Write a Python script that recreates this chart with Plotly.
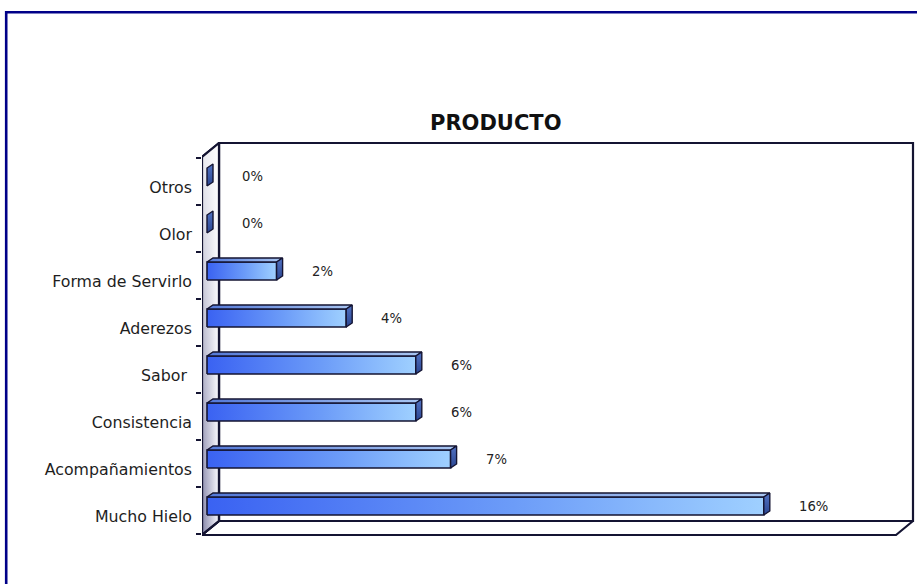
import plotly.graph_objects as go

# Categories listed bottom-to-top, with their shares (percent)
categories = ["Mucho Hielo", "Acompañamientos", "Consistencia", "Sabor ",
              "Aderezos", "Forma de Servirlo", "Olor", "Otros"]
values = [16, 7, 6, 6, 4, 2, 0, 0]
value_labels = [f"{v}%" for v in values]

title_text = "PRODUCTO"

# ---- page / scale geometry (pixels) ----
W, H = 917, 584
KX = 34.8          # pixels per percentage point
KY = 47.0          # pixels per category
X0PX = 207         # pixel x of value 0 at the bars' front face
YC0 = 510          # pixel y of the first category centre on the front plane

def px_x(p):       # horizontal pixel distance -> data units
    return p / KX

def px_y(p):       # vertical pixel distance -> data units
    return p / KY

LINE = "#141432"
FONT = "DejaVu Sans, Verdana, sans-serif"

# frame of the 3-D box (front plane + depth)
FL, FR = (202 - X0PX) / KX, (896 - X0PX) / KX
FB, FT = (YC0 - 535) / KY, (YC0 - 157) / KY
DX, DY = px_x(17), px_y(14)

# bar shape
BAR_OFF_Y = px_y(4)
BAR_HALF = px_y(9)
BDX, BDY = px_x(6), px_y(4)

# category labels sit a little below the slot centre
LABEL_DROP = px_y(6)

fig = go.Figure()

def poly(xs, ys, fill=None, grad=None, lw=1.6, lc=LINE):
    kw = dict(x=list(xs) + [xs[0]], y=list(ys) + [ys[0]], mode="lines",
              fill="toself", hoverinfo="skip", showlegend=False,
              line=dict(color=lc, width=lw))
    if grad is not None:
        kw["fillgradient"] = grad
    else:
        kw["fillcolor"] = fill
    fig.add_trace(go.Scatter(**kw))

# back wall
poly([FL + DX, FR + DX, FR + DX, FL + DX],
     [FB + DY, FB + DY, FT + DY, FT + DY], fill="white", lw=2.2)
# floor
poly([FL, FR, FR + DX, FL + DX], [FB, FB, FB + DY, FB + DY], fill="white", lw=2.2)
# left side wall: shaded toward the front/bottom
wall_x = [FL, FL + DX, FL + DX, FL]
wall_y = [FB, FB + DY, FT + DY, FT]
poly(wall_x, wall_y,
     grad=dict(type="horizontal",
               colorscale=[[0, "rgb(132,132,168)"], [1, "rgb(250,250,255)"]]),
     lw=2.2)
poly(wall_x, wall_y,
     grad=dict(type="vertical",
               colorscale=[[0, "rgba(255,255,255,0)"], [1, "rgba(255,255,255,0.85)"]]),
     lw=0, lc="rgba(0,0,0,0)")
fig.add_trace(go.Scatter(x=[FL, FL, FL + DX, FL + DX, FL], y=[FB, FT, FT + DY, FB + DY, FB],
                         mode="lines", line=dict(color=LINE, width=2.2),
                         hoverinfo="skip", showlegend=False))

# bars: front face, top face, right side face
for i, v in enumerate(values):
    yc = i + BAR_OFF_Y
    yb, yt = yc - BAR_HALF, yc + BAR_HALF
    if v > 0:
        poly([0, v, v, 0], [yb, yb, yt, yt],
             grad=dict(type="horizontal",
                       colorscale=[[0, "#3a62f2"], [0.55, "#6c9cf8"], [1, "#9fd0ff"]]),
             lw=1.6)
        poly([0, v, v + BDX, BDX], [yt, yt, yt + BDY, yt + BDY],
             grad=dict(type="horizontal",
                       colorscale=[[0, "#5479d8"], [1, "#a9c6f2"]]),
             lw=1.4)
    poly([v, v + BDX, v + BDX, v], [yb, yb + BDY, yt + BDY, yt],
         grad=dict(type="vertical",
                   colorscale=[[0, "#2a4590"], [1, "#5273c4"]]),
         lw=1.4)

# value labels
for i, (v, t) in enumerate(zip(values, value_labels)):
    fig.add_annotation(x=v, y=i + BAR_OFF_Y, text=t, showarrow=False,
                       xanchor="left", yanchor="middle", xshift=33,
                       font=dict(family=FONT, size=13.2, color="#222222"))

# title
fig.add_annotation(x=496 / W, y=1 - 123 / H, xref="paper", yref="paper",
                   text=f"<b>{title_text}</b>", showarrow=False,
                   xanchor="center", yanchor="middle",
                   font=dict(family=FONT, size=21, color="#111111"))

# outer navy frame
fig.add_shape(type="rect", xref="paper", yref="paper",
              x0=6.2 / W, x1=1.05, y0=-0.05, y1=1 - 12.2 / H,
              line=dict(color="#000088", width=2.6), fillcolor="rgba(0,0,0,0)")

fig.update_layout(
    width=W, height=H,
    margin=dict(l=0, r=0, t=0, b=0),
    paper_bgcolor="white", plot_bgcolor="rgba(0,0,0,0)",
    showlegend=False,
    xaxis=dict(domain=[202 / W, 1],
               range=[(202 - X0PX) / KX, (W - X0PX) / KX],
               visible=False, fixedrange=True),
    yaxis=dict(domain=[1 - 540 / H, 1 - 140 / H],
               range=[(YC0 - 540) / KY, (YC0 - 140) / KY],
               tickmode="array",
               tickvals=[k - LABEL_DROP for k in range(len(categories))],
               ticktext=categories, ticks="", showgrid=False, zeroline=False,
               showline=False, ticklabelstandoff=9,
               tickfont=dict(family=FONT, size=15.8, color="#1e1e1e"),
               minor=dict(tickmode="array",
                          tickvals=[k - 0.5 for k in range(len(categories) + 1)],
                          ticks="outside", ticklen=5, tickwidth=1.6,
                          tickcolor=LINE, showgrid=False),
               fixedrange=True),
)

fig.write_html("out.html")
